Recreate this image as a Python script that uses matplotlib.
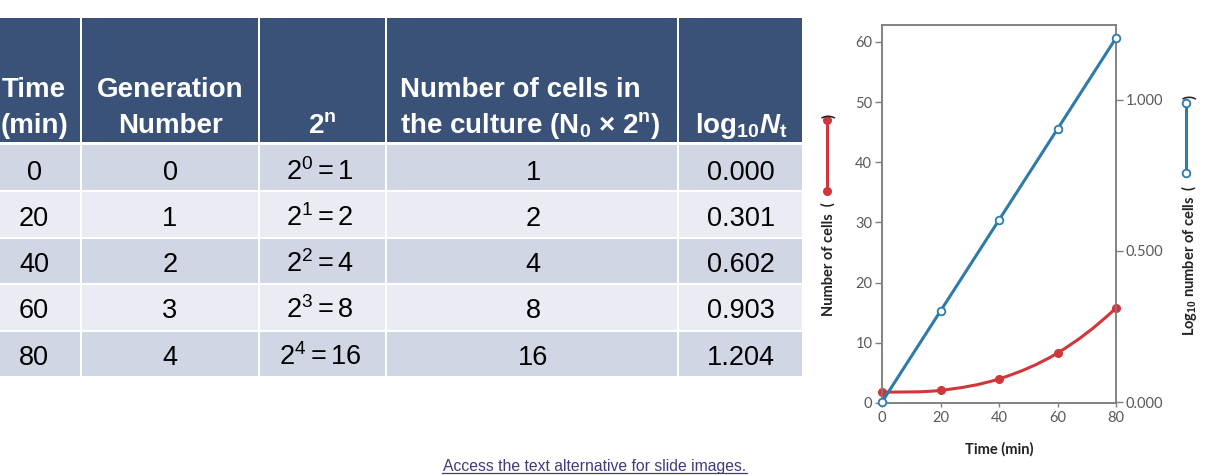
import matplotlib
matplotlib.use("Agg")
import matplotlib.pyplot as plt
from matplotlib.patches import Rectangle, PathPatch
from matplotlib.lines import Line2D
from matplotlib.path import Path

plt.rcParams['font.family'] = ['Liberation Sans', 'DejaVu Sans']
plt.rcParams['mathtext.fontset'] = 'custom'
plt.rcParams['mathtext.rm'] = 'Liberation Sans'
plt.rcParams['mathtext.it'] = 'Liberation Sans:italic'
plt.rcParams['mathtext.bf'] = 'Liberation Sans:bold'
plt.rcParams['mathtext.bfit'] = 'Liberation Sans:italic:bold'

# ---------------- data ----------------
time_min = [0, 20, 40, 60, 80]
generation = [0, 1, 2, 3, 4]
power_of_two = [1, 2, 4, 8, 16]
cells_in_culture = [1, 2, 4, 8, 16]
log10_cells = [0.000, 0.301, 0.602, 0.903, 1.204]
# values as drawn in the graph
cells_plotted = [1.8, 2.1, 4.0, 8.3, 15.8]
log_plotted = [0.000, 0.301, 0.602, 0.903, 1.204]
x_ticks = [0, 20, 40, 60, 80]
left_ticks = [0, 10, 20, 30, 40, 50, 60]
right_ticks = [0.0, 0.5, 1.0]

W, H = 1215, 475
fig = plt.figure(figsize=(W / 100, H / 100), dpi=100)

HEAD = '#3A5178'
ROW_DARK = '#D0D6E3'
ROW_LIGHT = '#E9ECF3'
RED = '#D0363A'
BLUE = '#2C7BA8'

# ---------------- table ----------------
tab = fig.add_axes([0, 0, 1, 1])
tab.set_xlim(0, W)
tab.set_ylim(H, 0)
tab.axis('off')

col_edges = [-12, 81, 259, 386, 678, 803]
head_top, head_bot = 18, 142
row_edges = [144, 191, 238, 284, 331, 377]
gap = 1.0

for i in range(5):
    x0, x1 = col_edges[i] + gap, col_edges[i + 1] - gap
    tab.add_patch(Rectangle((x0, head_top), x1 - x0, head_bot - head_top,
                            facecolor=HEAD, edgecolor='none'))
    for r in range(5):
        y0, y1 = row_edges[r] + gap, row_edges[r + 1] - gap
        tab.add_patch(Rectangle((x0, y0), x1 - x0, y1 - y0,
                                facecolor=ROW_DARK if r % 2 == 0 else ROW_LIGHT,
                                edgecolor='none'))

hk = dict(color='white', fontsize=20, fontweight='bold', va='baseline')
l1, l2 = 97, 133
tab.text(34, l1, 'Time', ha='center', **hk)
tab.text(34, l2, '(min)', ha='center', **hk)
tab.text(170, l1, 'Generation', ha='center', **hk)
tab.text(170, l2, 'Number', ha='center', **hk)
tab.text(322, l2, r'$\mathbf{2^n}$', ha='center', **hk)
tab.text(400, l1, 'Number of cells in', ha='left', **hk)
tab.text(400, l2, r'the culture (N$_\mathbf{0}$ × 2$^\mathbf{n}$)', ha='left', **hk)
tab.text(741, l2, r'log$_{\mathbf{10}}\mathbfit{N}_{\mathbf{t}}$', ha='center', **hk)

bk = dict(color='black', fontsize=19.5, va='baseline', ha='center')
baselines = [180, 226, 272, 318, 365]
col_centers = [34, 170, 320, 533, 741]
for r in range(5):
    yb = baselines[r]
    tab.text(col_centers[0], yb, f'{time_min[r]}', **bk)
    tab.text(col_centers[1], yb, f'{generation[r]}', **bk)
    tab.text(col_centers[2], yb, rf'$2^{{{generation[r]}}} = {power_of_two[r]}$', **bk)
    tab.text(col_centers[3], yb, f'{cells_in_culture[r]}', **bk)
    tab.text(col_centers[4], yb, f'{log10_cells[r]:.3f}', **bk)

# link text
tab.text(594.5, 466, 'Access the text alternative for slide images.',
         ha='center', va='center', fontsize=11.3, color='#3F3B7C')
tab.plot([442, 747], [473, 473], color='#3F3B7C', lw=0.9)

# ---------------- chart ----------------
ax_l, ax_r, ax_t, ax_b = 882, 1116, 25, 403
ax = fig.add_axes([ax_l / W, 1 - ax_b / H, (ax_r - ax_l) / W, (ax_b - ax_t) / H])
ax.set_xlim(0, 80)
ax.set_ylim(0, 62.8)
ax2 = ax.twinx()
ax2.set_ylim(-0.0033, 1.247)

SP = '#7F7F7F'
TK = '#595959'
for a in (ax, ax2):
    for s in a.spines.values():
        s.set_color(SP)
        s.set_linewidth(1.1)
    a.patch.set_alpha(0)

ax.set_xticks(x_ticks)
ax.set_yticks(left_ticks)
ax.tick_params(axis='x', direction='out', length=3, width=1, color=SP, pad=3,
               labelsize=10.5, labelcolor=TK, labelfontfamily='Lato')
ax.tick_params(axis='y', direction='out', length=5, width=1, color=SP, pad=2,
               labelsize=10.5, labelcolor=TK, labelfontfamily='Lato')
ax2.set_yticks(right_ticks)
ax2.set_yticklabels([f'{v:.3f}' for v in right_ticks])
ax2.tick_params(axis='y', direction='out', length=5, width=1, color=SP, pad=2,
                labelsize=10.5, labelcolor=TK, labelfontfamily='Lato')

ax.set_xlabel('Time (min)', fontsize=10.5, fontweight='bold', family='Lato',
              color='#222222', labelpad=12)

# smooth red curve (Bezier through the data points)
xs, ys = time_min, cells_plotted
n = len(xs)
m = []
for i in range(n):
    if i == 0:
        m.append((ys[1] - ys[0]) / (xs[1] - xs[0]) * 0.5)
    elif i == n - 1:
        m.append((ys[-1] - ys[-2]) / (xs[-1] - xs[-2]) * 1.25)
    else:
        m.append((ys[i + 1] - ys[i - 1]) / (xs[i + 1] - xs[i - 1]))
verts = [(xs[0], ys[0])]
codes = [Path.MOVETO]
for i in range(n - 1):
    dx = (xs[i + 1] - xs[i]) / 3
    verts += [(xs[i] + dx, ys[i] + dx * m[i]),
              (xs[i + 1] - dx, ys[i + 1] - dx * m[i + 1]),
              (xs[i + 1], ys[i + 1])]
    codes += [Path.CURVE4] * 3
ax.add_patch(PathPatch(Path(verts, codes), facecolor='none', edgecolor=RED,
                       lw=2.2, clip_on=False, zorder=3))
ax.plot(time_min, cells_plotted, 'o', color=RED, ms=5.5, clip_on=False, zorder=4)

ax2.plot(time_min, log_plotted, '-o', color=BLUE, lw=2.2, ms=5.5, mew=1.3,
         mfc='white', mec=BLUE, clip_on=False, zorder=5)

# ---------------- axis titles with legend keys ----------------
def fx(x):
    return x / W

def fy(y):
    return 1 - y / H

lab = dict(rotation=90, fontsize=10.5, fontweight='bold', family='Lato',
           color='#222222', ha='center')
fig.text(fx(828), fy(316), 'Number of cells  (', va='bottom', **lab)
fig.text(fx(829), fy(116), ')', va='center', **lab)
fig.add_artist(Line2D([fx(827), fx(827)], [fy(191), fy(120)], color=RED, lw=2.2,
                      marker='o', ms=5.5, transform=fig.transFigure))

fig.text(fx(1189), fy(336), r'Log$_{\mathbf{10}}$ number of cells  (', va='bottom', **lab)
fig.text(fx(1190), fy(97), ')', va='center', **lab)
fig.add_artist(Line2D([fx(1186), fx(1186)], [fy(173), fy(103)], color=BLUE, lw=2.2,
                      marker='o', ms=5.5, mew=1.3, mfc='white', mec=BLUE,
                      transform=fig.transFigure))

fig.savefig('out.png', dpi=100)
